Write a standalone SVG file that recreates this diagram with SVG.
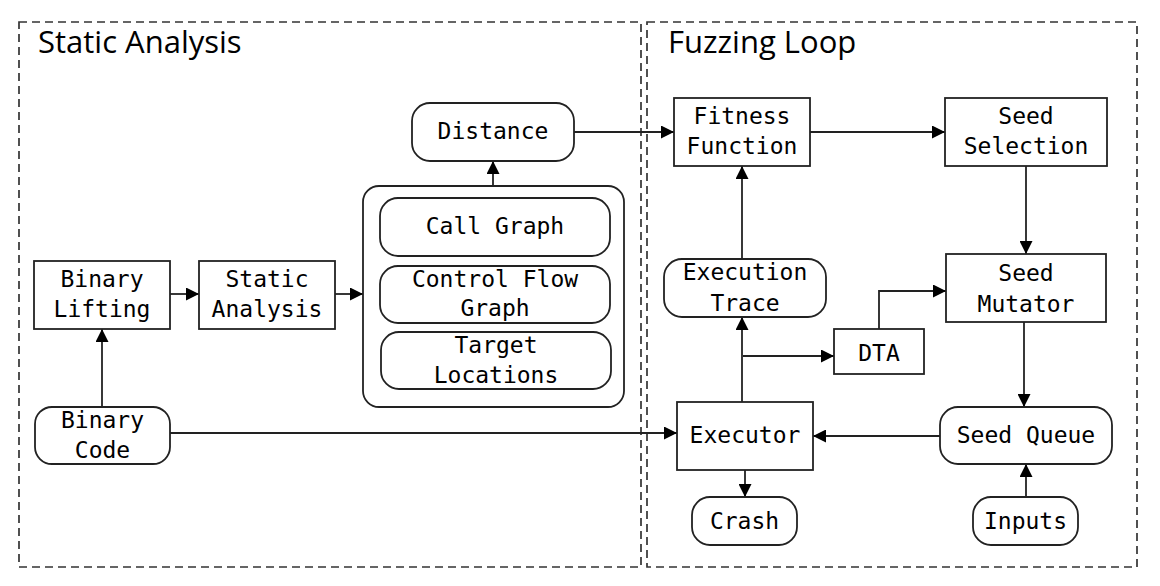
<svg xmlns="http://www.w3.org/2000/svg" width="1160" height="586" viewBox="0 0 1160 586">
<style>
.frame{fill:none;stroke:#333;stroke-width:1.7;stroke-dasharray:8 5}
.box{fill:#fff;stroke:#222;stroke-width:1.8}
.t{font-family:"DejaVu Sans Mono","Liberation Mono",monospace;font-size:23px;fill:#000;text-anchor:middle}
.title{font-family:"Open Sans","Noto Sans",sans-serif;font-size:31px;fill:#000}
.c{fill:none;stroke:#222;stroke-width:1.8}
</style>
<defs>
<marker id="ah" markerUnits="userSpaceOnUse" markerWidth="14" markerHeight="13" refX="13" refY="6.5" orient="auto">
<path d="M0,0 L13,6.5 L0,13 z" fill="#000"/>
</marker>
</defs>
<rect width="1160" height="586" fill="#fff"/>
<g id="frames">
<rect class="frame" x="19" y="22" width="622" height="545"/>
<text class="title" x="38" y="53">Static Analysis</text>
<rect class="frame" x="647" y="22" width="490" height="545"/>
<text class="title" x="668" y="53">Fuzzing Loop</text>
</g>
<g id="connectors">
<line class="c" x1="170" y1="294" x2="199" y2="294" marker-end="url(#ah)"/>
<line class="c" x1="335" y1="294" x2="363" y2="294" marker-end="url(#ah)"/>
<line class="c" x1="102" y1="407" x2="102" y2="329" marker-end="url(#ah)"/>
<line class="c" x1="170" y1="433" x2="677" y2="433" marker-end="url(#ah)"/>
<line class="c" x1="493" y1="186" x2="493" y2="161" marker-end="url(#ah)"/>
<line class="c" x1="574" y1="132" x2="674" y2="132" marker-end="url(#ah)"/>
<line class="c" x1="810" y1="132" x2="945" y2="132" marker-end="url(#ah)"/>
<line class="c" x1="1026" y1="166" x2="1026" y2="254" marker-end="url(#ah)"/>
<line class="c" x1="742" y1="259" x2="742" y2="166" marker-end="url(#ah)"/>
<polyline class="c" points="879,329 879,291 946,291" marker-end="url(#ah)"/>
<line class="c" x1="743" y1="356" x2="834" y2="356" marker-end="url(#ah)"/>
<line class="c" x1="742" y1="402" x2="742" y2="317" marker-end="url(#ah)"/>
<line class="c" x1="1024" y1="322" x2="1024" y2="407" marker-end="url(#ah)"/>
<line class="c" x1="940" y1="436" x2="813" y2="436" marker-end="url(#ah)"/>
<line class="c" x1="745" y1="470" x2="745" y2="497" marker-end="url(#ah)"/>
<line class="c" x1="1026" y1="497" x2="1026" y2="464" marker-end="url(#ah)"/>
</g>
<g id="binary-lifting">
<rect class="box" x="34" y="261" width="136" height="68"/>
<text class="t" x="102" y="287">Binary</text>
<text class="t" x="102" y="317">Lifting</text>
</g>
<g id="static-analysis">
<rect class="box" x="199" y="261" width="136" height="68"/>
<text class="t" x="267" y="287">Static</text>
<text class="t" x="267" y="317">Analysis</text>
</g>
<g id="binary-code">
<rect class="box" x="35" y="407" width="135" height="57" rx="17"/>
<text class="t" x="102.5" y="428">Binary</text>
<text class="t" x="102.5" y="458">Code</text>
</g>
<g id="analysis-results">
<rect class="box" x="363" y="186" width="261" height="221" rx="16"/>
</g>
<g id="call-graph">
<rect class="box" x="380" y="198" width="230" height="58" rx="18"/>
<text class="t" x="495" y="234">Call Graph</text>
</g>
<g id="control-flow-graph">
<rect class="box" x="380" y="266" width="230" height="57" rx="18"/>
<text class="t" x="495" y="287">Control Flow</text>
<text class="t" x="495" y="316">Graph</text>
</g>
<g id="target-locations">
<rect class="box" x="381" y="332" width="230" height="57" rx="18"/>
<text class="t" x="496" y="353">Target</text>
<text class="t" x="496" y="383">Locations</text>
</g>
<g id="distance">
<rect class="box" x="412" y="103" width="162" height="58" rx="18"/>
<text class="t" x="493" y="139">Distance</text>
</g>
<g id="fitness-function">
<rect class="box" x="674" y="98" width="136" height="68"/>
<text class="t" x="742" y="124">Fitness</text>
<text class="t" x="742" y="154">Function</text>
</g>
<g id="seed-selection">
<rect class="box" x="945" y="98" width="162" height="68"/>
<text class="t" x="1026" y="124">Seed</text>
<text class="t" x="1026" y="154">Selection</text>
</g>
<g id="seed-mutator">
<rect class="box" x="946" y="254" width="160" height="68"/>
<text class="t" x="1026" y="281">Seed</text>
<text class="t" x="1026" y="312">Mutator</text>
</g>
<g id="execution-trace">
<rect class="box" x="664" y="259" width="162" height="58" rx="18"/>
<text class="t" x="745" y="280">Execution</text>
<text class="t" x="745" y="311">Trace</text>
</g>
<g id="dta">
<rect class="box" x="834" y="329" width="90" height="45"/>
<text class="t" x="879" y="361">DTA</text>
</g>
<g id="executor">
<rect class="box" x="677" y="402" width="136" height="68"/>
<text class="t" x="745" y="443">Executor</text>
</g>
<g id="seed-queue">
<rect class="box" x="940" y="407" width="172" height="57" rx="18"/>
<text class="t" x="1026" y="443">Seed Queue</text>
</g>
<g id="crash">
<rect class="box" x="692" y="497" width="105" height="48" rx="18"/>
<text class="t" x="744.5" y="529">Crash</text>
</g>
<g id="inputs">
<rect class="box" x="973" y="497" width="105" height="48" rx="18"/>
<text class="t" x="1025.5" y="529">Inputs</text>
</g>
</svg>
